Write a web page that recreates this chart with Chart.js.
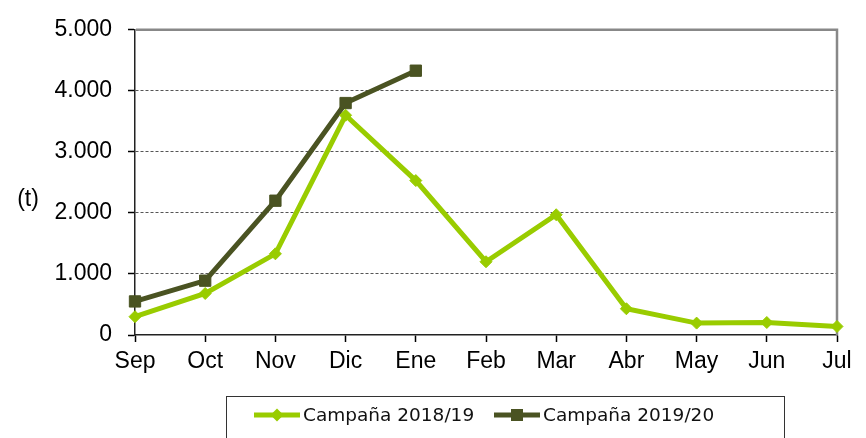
<!DOCTYPE html>
<html>
<head>
<meta charset="utf-8">
<script src="https://cdn.jsdelivr.net/npm/chart.js@4"></script>
<style>
  html, body { margin: 0; padding: 0; background: #fff; }
  #wrap { width: 866px; height: 438px; }
</style>
</head>
<body>
<div id="wrap"><canvas id="chart" width="866" height="438"></canvas></div>
<script>
const months = ['Sep', 'Oct', 'Nov', 'Dic', 'Ene', 'Feb', 'Mar', 'Abr', 'May', 'Jun', 'Jul'];
const campaign1819 = [300, 680, 1330, 3600, 2530, 1200, 1970, 430, 195, 205, 140];
const campaign1920 = [550, 890, 2200, 3800, 4330];
const seriesNames = ['Campaña 2018/19', 'Campaña 2019/20'];
const yTicks = [0, 1000, 2000, 3000, 4000, 5000];
const unitLabel = '(t)';

const lightGreen = '#99cc00';
const darkOlive = '#4a5322';

function fmt(v) {
  return String(v).replace(/\B(?=(\d{3})+(?!\d))/g, '.');
}

// frame, unit label and the boxed legend under the chart
const extras = {
  id: 'extras',
  beforeDatasetsDraw(chart) {
    const { ctx, chartArea: a } = chart;
    ctx.save();
    ctx.strokeStyle = '#888';
    ctx.lineWidth = 2.5;
    ctx.beginPath();
    ctx.moveTo(a.left + 1, a.top);
    ctx.lineTo(a.right, a.top);
    ctx.lineTo(a.right, a.bottom);
    ctx.stroke();
    ctx.restore();
  },
  afterDraw(chart) {
    const { ctx } = chart;
    ctx.save();
    ctx.fillStyle = '#000';
    ctx.font = '23px "Liberation Sans", Arial, sans-serif';
    ctx.textAlign = 'center';
    ctx.textBaseline = 'middle';
    ctx.fillText(unitLabel, 28, 200);

    // legend box
    ctx.strokeStyle = '#333';
    ctx.lineWidth = 1;
    ctx.strokeRect(226.5, 396.5, 558, 60);

    const y = 415;
    ctx.lineWidth = 5;
    ctx.strokeStyle = lightGreen;
    ctx.beginPath(); ctx.moveTo(254, y); ctx.lineTo(300, y); ctx.stroke();
    ctx.fillStyle = lightGreen;
    ctx.beginPath();
    ctx.moveTo(277 - 6.5, y); ctx.lineTo(277, y - 6.5); ctx.lineTo(277 + 6.5, y); ctx.lineTo(277, y + 6.5);
    ctx.closePath(); ctx.fill();

    ctx.strokeStyle = darkOlive;
    ctx.beginPath(); ctx.moveTo(494, y); ctx.lineTo(540, y); ctx.stroke();
    ctx.fillStyle = darkOlive;
    ctx.fillRect(517 - 6, y - 6, 12, 12);

    ctx.fillStyle = '#111';
    ctx.font = '18.5px "DejaVu Sans", sans-serif';
    ctx.textAlign = 'left';
    ctx.fillText(seriesNames[0], 303, y + 1);
    ctx.fillText(seriesNames[1], 543, y + 1);
    ctx.restore();
  }
};

new Chart(document.getElementById('chart'), {
  type: 'line',
  data: {
    labels: months,
    datasets: [
      {
        label: seriesNames[0],
        data: campaign1819,
        borderColor: lightGreen,
        backgroundColor: lightGreen,
        borderWidth: 5,
        tension: 0,
        pointStyle: 'rectRot',
        pointRadius: 6,
        pointBorderWidth: 1,
        pointBackgroundColor: lightGreen,
        pointBorderColor: lightGreen
      },
      {
        label: seriesNames[1],
        data: campaign1920,
        borderColor: darkOlive,
        backgroundColor: darkOlive,
        borderWidth: 5,
        tension: 0,
        pointStyle: 'rect',
        pointRadius: 8,
        pointBorderWidth: 1,
        pointBackgroundColor: darkOlive,
        pointBorderColor: darkOlive
      }
    ]
  },
  options: {
    responsive: false,
    animation: false,
    layout: { padding: { left: 0, top: 27, right: 29, bottom: 63 } },
    plugins: {
      legend: { display: false },
      tooltip: { enabled: false },
      title: { display: false }
    },
    scales: {
      x: {
        offset: false,
        afterFit: s => { s.height = 40; },
        grid: {
          display: true,
          drawOnChartArea: false,
          drawTicks: true,
          tickLength: 7,
          tickColor: '#000',
          tickWidth: 1.5
        },
        border: { display: true, color: '#222', width: 1.5 },
        ticks: {
          color: '#000',
          padding: 6,
          maxRotation: 0,
          font: { family: '"Liberation Sans", Arial, sans-serif', size: 23 }
        }
      },
      y: {
        min: yTicks[0],
        max: yTicks[yTicks.length - 1],
        afterFit: s => { s.width = 135; },
        afterBuildTicks: s => { s.ticks = yTicks.map(v => ({ value: v })); },
        grid: {
          color: c => (c.tick && c.tick.value > 0 && c.tick.value < 5000) ? '#555' : 'rgba(0,0,0,0)',
          lineWidth: 1,
          drawTicks: true,
          tickLength: 7,
          tickColor: '#000',
          tickWidth: 1.5
        },
        border: { display: true, color: '#222', width: 1.5, dash: [3, 2] },
        ticks: {
          color: '#000',
          padding: 16,
          font: { family: '"Liberation Sans", Arial, sans-serif', size: 23 },
          callback: v => fmt(v)
        }
      }
    }
  },
  plugins: [extras]
});
</script>
</body>
</html>
